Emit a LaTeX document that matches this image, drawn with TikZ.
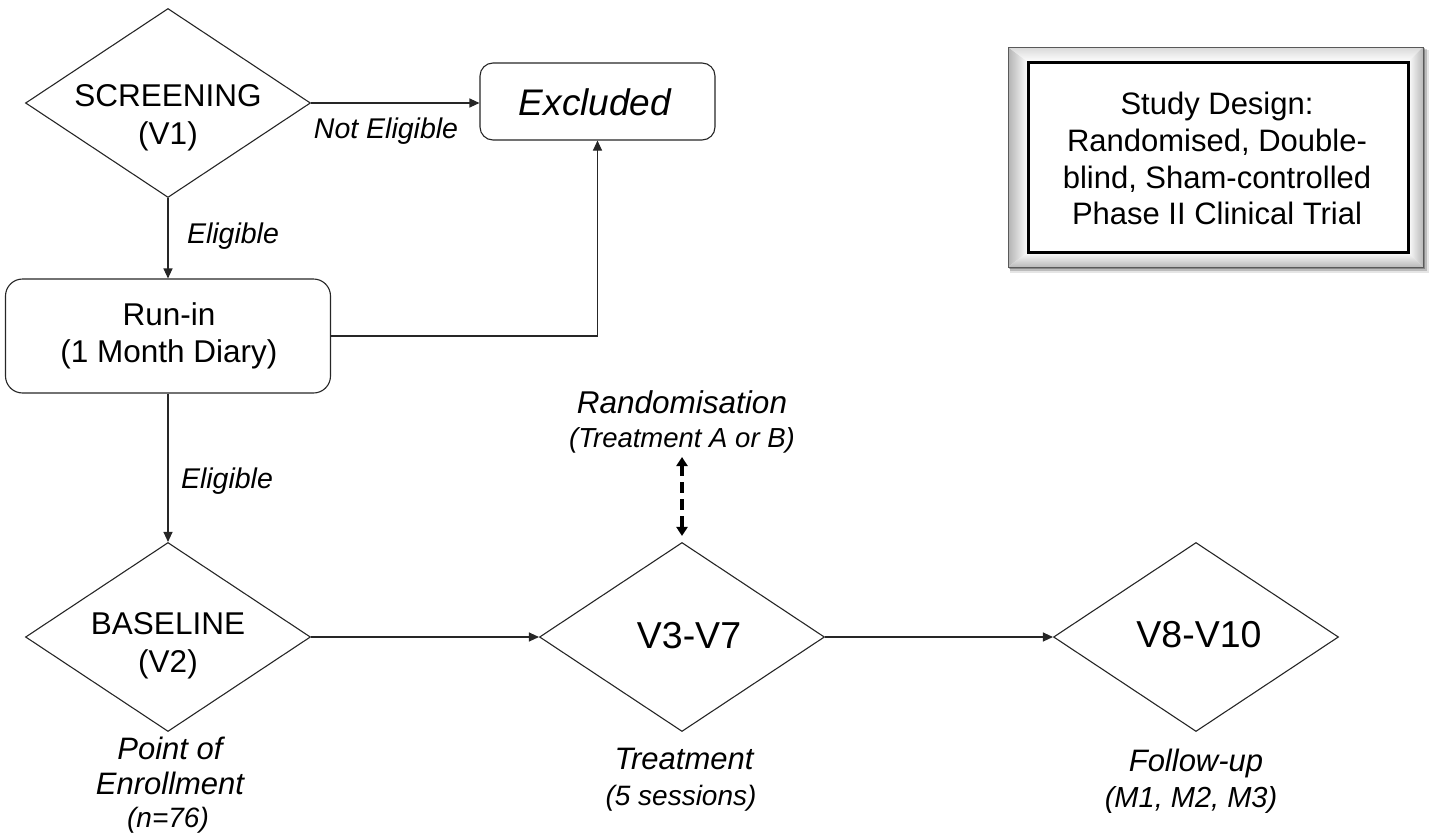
\documentclass[tikz,border=0pt]{standalone}
\usepackage{fontspec}
\setmainfont{Liberation Sans}
\usetikzlibrary{shapes.geometric, arrows.meta}

% font size given in points, one point per output pixel
\newcommand{\pxsize}[1]{\fontsize{#1}{#1}\selectfont}

\begin{document}
\begin{tikzpicture}[x=1pt, y=-1pt,
  line/.style={draw=black!85, line width=1.1pt},
  arr/.style={line, -{Triangle[length=10pt, width=9pt]}},
  dia/.style={diamond, line, minimum width=285pt, minimum height=189pt, inner sep=0pt},
  rbox/.style={rectangle, line, inner sep=0pt},
  txt/.style={anchor=base, inner sep=0pt, text=black},
  nodefont/.style={txt, font=\pxsize{31.5}},
  visitfont/.style={txt, font=\pxsize{37.5}},
  lab/.style={txt, font=\pxsize{28.5}\itshape},
  biglab/.style={txt, font=\pxsize{31}\itshape},
  sublab/.style={txt, font=\pxsize{28}\itshape},
  designfont/.style={txt, font=\pxsize{31}},
  dasharrow/.style={draw=black, line width=3.4pt, dash pattern=on 11pt off 6pt,
    {Triangle[length=9pt, width=11pt]}-{Triangle[length=9pt, width=11pt]}}
]
\useasboundingbox (0,0) rectangle (1430,835);

% ---------- flow shapes ----------
\node[dia] (screen) at (168,103) {};
\node[rbox, rounded corners=13pt, minimum width=235pt, minimum height=77pt] (excl) at (597.5,101.5) {};
\node[rbox, rounded corners=17pt, minimum width=325pt, minimum height=114pt] (runin) at (168,336) {};
\node[dia] (base) at (168,637) {};
\node[dia] (treat) at (682,637) {};
\node[dia] (follow) at (1196,637) {};

% ---------- texts inside shapes ----------
\node[nodefont] (screenA) at (168,106) {SCREENING};
\node[nodefont] (screenB) at (168,144) {(V1)};
\node[txt, font=\pxsize{37}\itshape] (exclA) at (595,115) {Excluded};
\node[nodefont] (runinA) at (169,325) {Run-in};
\node[nodefont] (runinB) at (169,362) {(1 Month Diary)};
\node[nodefont] (baseA) at (168,634) {BASELINE};
\node[nodefont] (baseB) at (168,672) {(V2)};
\node[visitfont] (treatA) at (689,648) {V3-V7};
\node[visitfont] (followA) at (1199,647) {V8-V10};

% ---------- connector labels ----------
\node[lab] (notelig) at (386,138) {Not Eligible};
\node[lab] (elig1) at (233,243) {Eligible};
\node[lab] (elig2) at (227,488) {Eligible};

% ---------- captions ----------
\node[txt, font=\pxsize{31.5}\itshape] (randA) at (682,413) {Randomisation};
\node[txt, font=\pxsize{27.5}\itshape] (randB) at (682,447) {(Treatment A or B)};
\node[biglab] (enrA) at (170,759) {Point of};
\node[biglab] (enrB) at (170,794) {Enrollment};
\node[sublab] (enrC) at (168,827) {(n=76)};
\node[biglab] (trtA) at (684,769) {Treatment};
\node[sublab] (trtB) at (681,805) {(5 sessions)};
\node[biglab] (fupA) at (1196,771) {Follow-up};
\node[txt, font=\pxsize{29}\itshape] (fupB) at (1191,807) {(M1, M2, M3)};

% ---------- connectors ----------
\draw[arr] (screen.east) -- (screen.east -| excl.west);
\draw[arr] (screen.south) -- (runin.north);
\draw[arr] (runin.east) -| (excl.south);
\draw[arr] (runin.south) -- (base.north);
\draw[arr] (base.east) -- (treat.west);
\draw[arr] (treat.east) -- (follow.west);
\draw[dasharrow, shorten >=6pt, shorten <=10pt] (randB.south |- randB.base) -- (treat.north);

% ---------- study design panel ----------
% soft shadow
\fill[black, opacity=0.10] (1010,50) rectangle (1429,273);
\fill[black, opacity=0.18] (1010,49) rectangle (1427,271);
\fill[black, opacity=0.28] (1009,48) rectangle (1425,269);
% bevelled frame
\fill[gray!10] (1008,47) rectangle (1423,267);
\shade[left color=gray!60, right color=white]
  (1008,47) -- (1028,62) -- (1028,252) -- (1008,267) -- cycle;
\shade[top color=gray!30, bottom color=white]
  (1008,47) -- (1423,47) -- (1408,62) -- (1028,62) -- cycle;
\shade[left color=white, right color=gray!55]
  (1423,47) -- (1423,267) -- (1408,252) -- (1408,62) -- cycle;
\shade[top color=white, bottom color=gray!55]
  (1008,267) -- (1423,267) -- (1408,252) -- (1028,252) -- cycle;
\draw[gray!70!black, line width=1pt] (1008,47) rectangle (1423,267);
\node[rectangle, draw=black, fill=white, line width=3pt, inner sep=0pt,
  minimum width=380pt, minimum height=190pt] (design) at (1218,157) {};
\node[designfont] (designA) at (1217,114) {Study Design:};
\node[designfont] (designB) at (1217,151) {Randomised, Double-};
\node[designfont] (designC) at (1217,188) {blind, Sham-controlled};
\node[designfont] (designD) at (1217,224) {Phase II Clinical Trial};

\end{tikzpicture}
\end{document}
